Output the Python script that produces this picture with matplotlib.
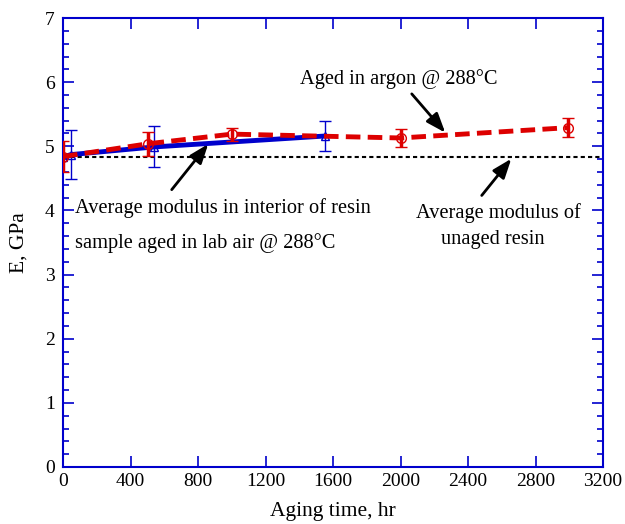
import matplotlib.pyplot as plt
from matplotlib.ticker import MultipleLocator

# argon-aged samples
argon_hr = [0, 505, 1000, 2000, 2990]
argon_e = [4.84, 5.04, 5.19, 5.13, 5.29]
argon_err = [0.24, 0.19, 0.10, 0.14, 0.15]

# interior of lab-air-aged samples
air_hr = [0, 45, 540, 1550]
air_e = [4.83, 4.87, 4.99, 5.16]
air_err = [0.0, 0.38, 0.32, 0.24]

unaged_e = 4.83

plt.rcParams["font.family"] = ["Liberation Serif", "DejaVu Serif"]
plt.rcParams["font.size"] = 14.7

fig = plt.figure(figsize=(6.25, 5.24), dpi=100)
ax = fig.add_axes([0.1008, 0.1088, 0.864, 0.8568])

blue = "#0000cc"
red = "#dd0000"

ax.axhline(unaged_e, color="black", linestyle=(0, (2, 1.5)), linewidth=1.5, zorder=2)

ax.errorbar(air_hr, air_e, yerr=air_err, color=blue, linewidth=3.5, marker="^",
            markersize=6, markerfacecolor="none", markeredgewidth=1,
            ecolor=blue, elinewidth=1, capsize=4, zorder=3)
ax.errorbar(argon_hr, argon_e, yerr=argon_err, color=red, linewidth=3.5,
            linestyle=(0, (3, 1.5)), marker="o", markersize=7,
            markerfacecolor="none", markeredgewidth=1, ecolor=red,
            elinewidth=2.5, capsize=4, capthick=2, zorder=4)

ax.set_xlim(0, 3200)
ax.set_ylim(0, 7)
ax.xaxis.set_major_locator(MultipleLocator(400))
ax.yaxis.set_major_locator(MultipleLocator(1))
ax.yaxis.set_minor_locator(MultipleLocator(0.2))
ax.tick_params(which="both", direction="in", top=True, right=True, color=blue,
               labelsize=14)
ax.tick_params(which="major", length=8, width=1.2)
ax.tick_params(which="minor", length=4, width=1.2)
ax.tick_params(axis="y", which="major", pad=6)
ax.tick_params(axis="x", which="major", pad=4)
for spine in ax.spines.values():
    spine.set_color(blue)
    spine.set_linewidth(1.5)

ax.set_xlabel("Aging time, hr", fontsize=15.5, labelpad=9)
ax.set_ylabel("E, GPa", fontsize=15.5, labelpad=12)

arrow = dict(arrowstyle="-|>,head_length=0.8,head_width=0.3", color="black", lw=2)
ax.annotate("", xy=(2276, 5.18), xytext=(2056, 5.85), arrowprops=arrow)
ax.text(1990, 6.05, "Aged in argon @ 288°C", ha="center", va="center")

ax.annotate("", xy=(871, 5.07), xytext=(634, 4.29), arrowprops=arrow)
ax.text(70, 4.04, "Average modulus in interior of resin", ha="left", va="center")
ax.text(70, 3.49, "sample aged in lab air @ 288°C", ha="left", va="center")

ax.annotate("", xy=(2667, 4.84), xytext=(2471, 4.2), arrowprops=arrow)
ax.text(2580, 3.96, "Average modulus of", ha="center", va="center")
ax.text(2545, 3.54, "unaged resin", ha="center", va="center")

fig.savefig("out.png", dpi=100)
